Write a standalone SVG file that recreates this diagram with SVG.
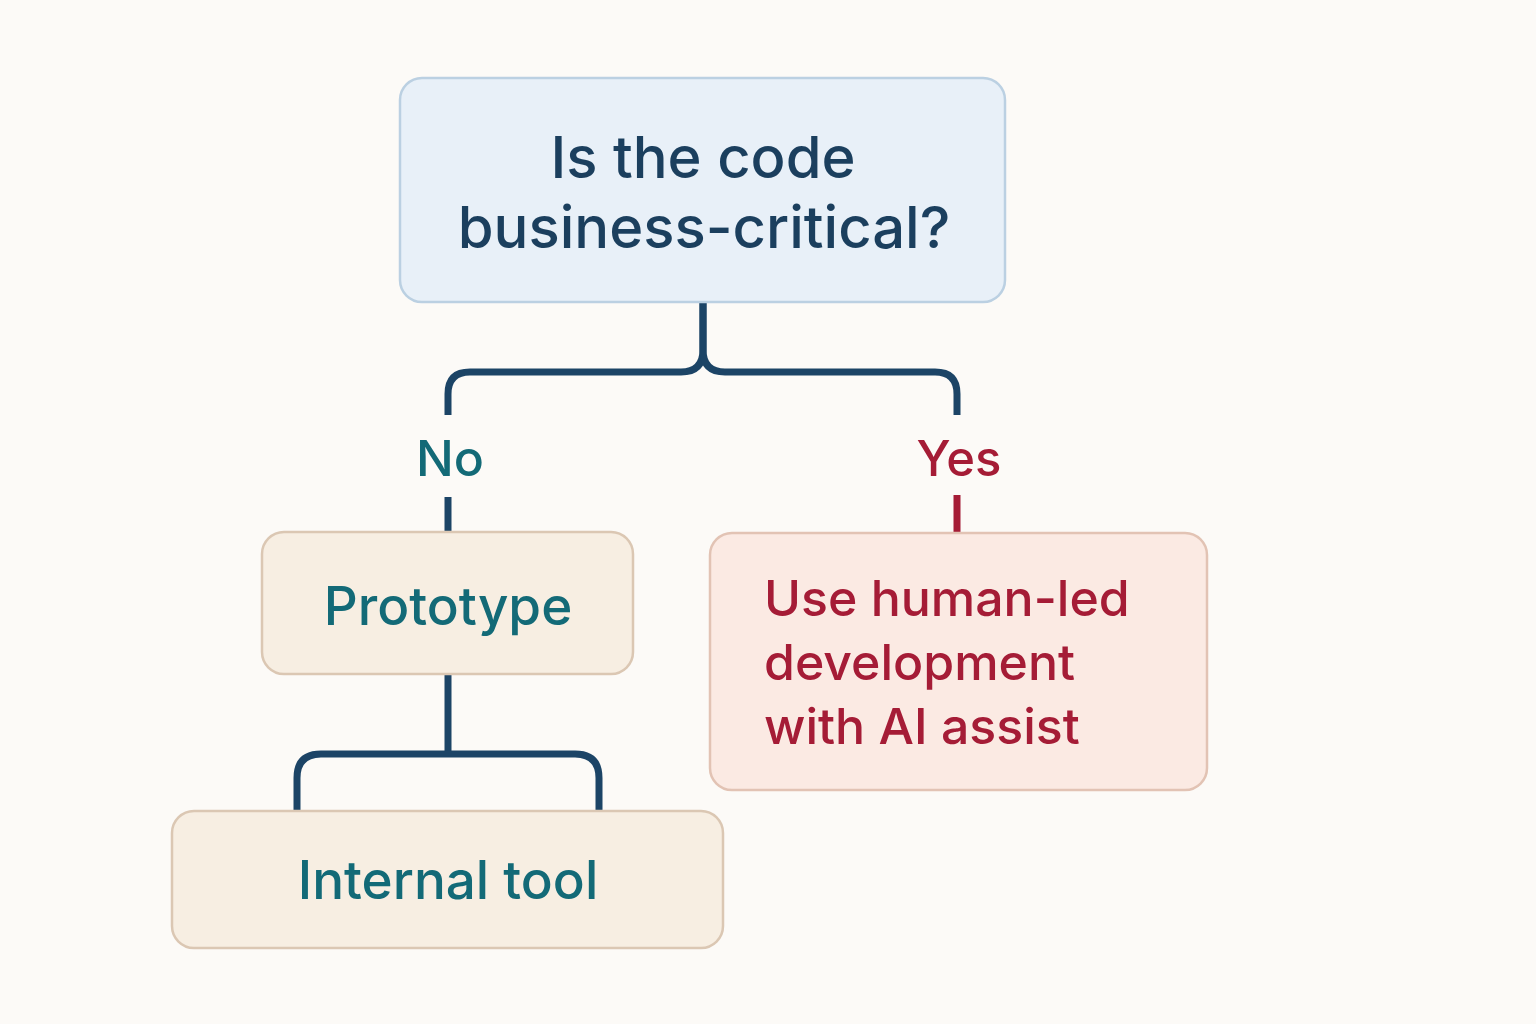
<svg xmlns="http://www.w3.org/2000/svg" width="1536" height="1024" viewBox="0 0 1536 1024">
<style>
.t{font-family:Inter,"Noto Sans","Liberation Sans",sans-serif;font-weight:500}
.navy{fill:#1b3f5e}
.teal{fill:#136a77}
.red{fill:#a51c36}
.conn{fill:none;stroke:#1c4466;stroke-width:7}
</style>
<rect width="1536" height="1024" fill="#fcfaf7"/>
<g id="connectors">
<path class="conn" d="M703,302 V350 Q703,372 681,372 H470 Q448,372 448,394 V415"/>
<path class="conn" d="M703,302 V350 Q703,372 725,372 H935 Q957,372 957,394 V415"/>
<line x1="448" y1="497" x2="448" y2="532" stroke="#1c4466" stroke-width="7"/>
<line x1="957" y1="495" x2="957" y2="532" stroke="#a51c36" stroke-width="7"/>
<path class="conn" d="M448,674 V754 M297,810 V778 Q297,754 321,754 H575 Q599,754 599,778 V810"/>
</g>
<g id="node-question">
<rect x="400" y="78" width="605" height="224" rx="22" fill="#e8f0f8" stroke="#bbd0e2" stroke-width="2.5"/>
<text class="t navy" x="703" y="178" font-size="58" text-anchor="middle">Is the code</text>
<text class="t navy" x="704" y="248" font-size="58" text-anchor="middle">business-critical?</text>
</g>
<g id="label-no"><text class="t teal" x="450" y="476" font-size="50" text-anchor="middle">No</text></g>
<g id="label-yes"><text class="t red" x="959" y="476" font-size="49" text-anchor="middle">Yes</text></g>
<g id="node-prototype">
<rect x="262" y="532" width="371" height="142" rx="22" fill="#f7eee2" stroke="#dbc7b3" stroke-width="2.5"/>
<text class="t teal" x="448" y="625" font-size="53" text-anchor="middle">Prototype</text>
</g>
<g id="node-internal">
<rect x="172" y="811" width="551" height="137" rx="22" fill="#f7eee2" stroke="#dbc7b3" stroke-width="2.5"/>
<text class="t teal" x="448" y="899" font-size="53" text-anchor="middle">Internal tool</text>
</g>
<g id="node-human">
<rect x="710" y="533" width="497" height="257" rx="22" fill="#fbeae3" stroke="#e2c3b4" stroke-width="2.5"/>
<text class="t red" x="764" y="616" font-size="50">Use human-led</text>
<text class="t red" x="764" y="680" font-size="50">development</text>
<text class="t red" x="764" y="744" font-size="50">with AI assist</text>
</g>
</svg>
